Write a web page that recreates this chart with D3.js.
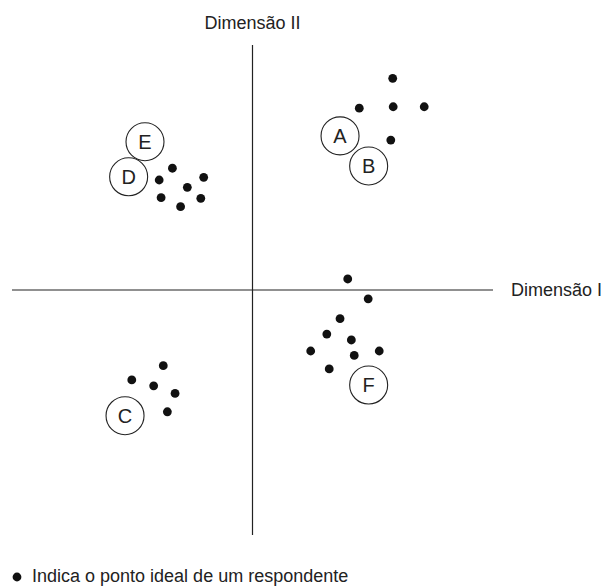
<!DOCTYPE html>
<html>
<head>
<meta charset="utf-8">
<script src="https://cdn.jsdelivr.net/npm/d3@7"></script>
<style>
  body { margin: 0; background: #fff; }
  #chart { width: 612px; height: 587px; }
  text { font-family: "Liberation Sans", Arial, sans-serif; fill: #222; }
</style>
</head>
<body>
<div id="chart"></div>
<script>
// Ideal points of respondents (Dimensão I, Dimensão II)
const idealX = [5.83, 4.44, 5.85, 7.14, 5.75,
                -3.33, -3.88, -2.03, -2.71, -3.80, -2.15, -2.99,
                3.96, 4.81, 3.64, 3.09, 4.11, 2.42, 4.23, 5.27, 3.19,
                -3.71, -5.02, -4.11, -3.22, -3.54];
const idealY = [8.64, 7.42, 7.48, 7.48, 6.12,
                4.97, 4.49, 4.60, 4.19, 3.77, 3.74, 3.40,
                0.45, -0.36, -1.17, -1.80, -2.04, -2.49, -2.67, -2.49, -3.22,
                -3.09, -3.67, -3.91, -4.22, -4.97];

// Brand positions
const brands = ["A", "B", "C", "D", "E", "F"];
const brandX = [3.64, 4.83, -5.30, -5.15, -4.47, 4.83];
const brandY = [6.29, 5.06, -5.13, 4.62, 6.05, -3.88];

const axisLabels = ["Dimensão I", "Dimensão II"];
const legendText = "Indica o ponto ideal de um respondente";

(() => {
    const sel = d3.select("#chart");
    const W = 612, H = 587;
    const svg = sel.append("svg").attr("width", W).attr("height", H);

    const x = d3.scaleLinear().domain([-10, 10]).range([12, 493]);
    const y = d3.scaleLinear().domain([-10, 10]).range([535, 45]);

    // axes through the origin
    svg.append("line")
        .attr("x1", x(-10)).attr("x2", x(10))
        .attr("y1", y(0)).attr("y2", y(0))
        .attr("stroke", "#222").attr("stroke-width", 1.2);
    svg.append("line")
        .attr("x1", x(0)).attr("x2", x(0))
        .attr("y1", y(-10)).attr("y2", y(10))
        .attr("stroke", "#222").attr("stroke-width", 1.2);

    svg.append("text")
        .attr("x", x(10) + 18).attr("y", y(0) + 6)
        .attr("font-size", 18)
        .text(axisLabels[0]);
    svg.append("text")
        .attr("x", x(0)).attr("y", 29)
        .attr("text-anchor", "middle")
        .attr("font-size", 18)
        .text(axisLabels[1]);

    // respondents
    svg.selectAll("circle.ideal")
        .data(d3.range(idealX.length))
        .join("circle")
        .attr("class", "ideal")
        .attr("cx", i => x(idealX[i]))
        .attr("cy", i => y(idealY[i]))
        .attr("r", 4.4)
        .attr("fill", "#111");

    // brands
    const b = svg.selectAll("g.brand")
        .data(brands.map((name, i) => ({ name, bx: brandX[i], by: brandY[i] })))
        .join("g")
        .attr("class", "brand")
        .attr("transform", d => `translate(${x(d.bx)},${y(d.by)})`);
    b.append("circle")
        .attr("r", 19)
        .attr("fill", "#fff")
        .attr("stroke", "#222")
        .attr("stroke-width", 1.1);
    b.append("text")
        .attr("text-anchor", "middle")
        .attr("dy", 7)
        .attr("font-size", 20)
        .text(d => d.name);

    // legend
    svg.append("circle").attr("cx", 17).attr("cy", 577).attr("r", 4.4).attr("fill", "#111");
    svg.append("text")
        .attr("x", 32).attr("y", 582)
        .attr("font-size", 18)
        .text(legendText);
})();
</script>
</body>
</html>
